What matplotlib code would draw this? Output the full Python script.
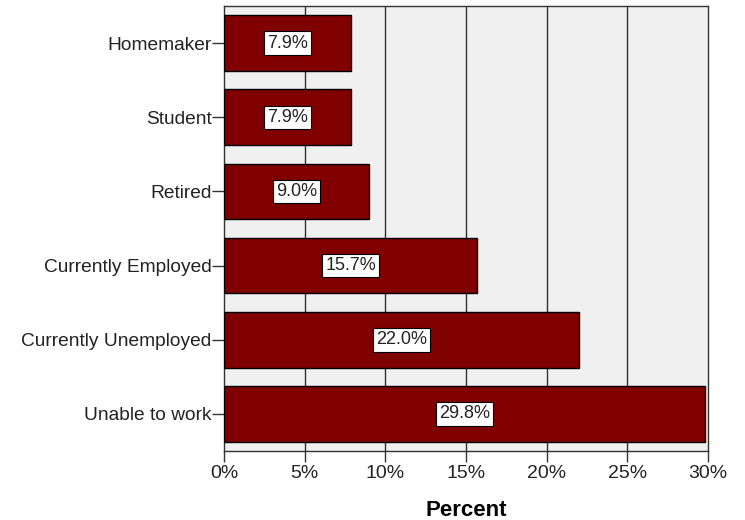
import matplotlib
matplotlib.use("Agg")
import matplotlib.pyplot as plt
from matplotlib.ticker import FuncFormatter

categories = ["Homemaker", "Student", "Retired", "Currently Employed",
              "Currently Unemployed", "Unable to work"]
values = [7.9, 7.9, 9.0, 15.7, 22.0, 29.8]
xticks = [0, 5, 10, 15, 20, 25, 30]

plt.rcParams['font.family'] = ['Liberation Sans', 'DejaVu Sans']

fig = plt.figure(figsize=(7.45, 5.2), dpi=100)
ax = fig.add_axes([224/745, 1 - 451/520, (708 - 224)/745, (451 - 6)/520])
ax.set_facecolor('#F0F0F0')

ypos = list(range(len(categories)))
ax.barh(ypos, values, height=0.75, color='#800000', edgecolor='black',
        linewidth=1, zorder=3)
for y, v in zip(ypos, values):
    ax.text(v / 2, y, f"{v:.1f}%", ha='center', va='center', fontsize=13,
            color='#222222', zorder=4,
            bbox=dict(boxstyle='square,pad=0.18', facecolor='white',
                      edgecolor='black', linewidth=0.8))

ax.set_ylim(len(categories) - 0.5, -0.5)
ax.set_xlim(0, 30)
ax.set_yticks(ypos)
ax.set_yticklabels(categories, fontsize=13.8, color='#222222')
ax.set_xticks(xticks)
ax.xaxis.set_major_formatter(FuncFormatter(lambda x, p: f"{x:.0f}%"))
ax.tick_params(axis='x', labelsize=14, labelcolor='#222222', length=8,
               width=1, color='#333333', pad=2)
ax.tick_params(axis='y', length=9, width=1, color='#333333', pad=0)
for x in xticks[1:-1]:
    ax.axvline(x, color='#333333', linewidth=1, zorder=1)
for s in ax.spines.values():
    s.set_color('#333333')
    s.set_linewidth(1)
ax.set_xlabel("Percent", fontsize=16, fontweight='bold', labelpad=13)

fig.savefig("out.png", dpi=100)
